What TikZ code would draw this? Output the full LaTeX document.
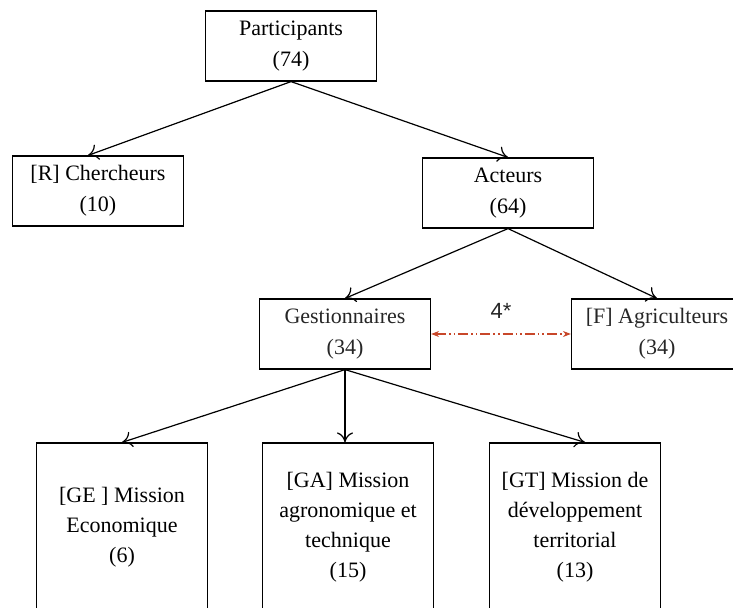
\documentclass[tikz,border=0pt]{standalone}
\usepackage{fontspec}
\setmainfont{Liberation Serif}
\newfontfamily\starfont{Liberation Sans}
\usepackage{xcolor}
\usetikzlibrary{arrows.meta}
\definecolor{linkred}{HTML}{C8472A}

\begin{document}
\begin{tikzpicture}[x=0.5pt,y=-0.5pt,
  box/.style={draw,line width=0.6pt,minimum width=85.5pt,minimum height=35pt,align=center,inner sep=2pt,font=\fontsize{11}{15.5}\selectfont},
  tallbox/.style={box,minimum height=84pt,font=\fontsize{11}{15}\selectfont},
  greytext/.style={text=black!85},
  link/.style={-{To[length=5pt,width=8pt]},line width=0.6pt}]
\useasboundingbox (0,0) rectangle (733,608);
\clip (0,0) rectangle (733,608);
%Text
\node (part) at (291,46) [box] {Participants\\(74)};
\node (cherch) at (98,191) [box] {[R] Chercheurs\\(10)};
\node (acteurs) at (508,193) [box] {Acteurs\\(64)};
\node (gest) at (345,334) [box,greytext] {Gestionnaires\\(34)};
\node (agri) at (657,334) [box,greytext] {[F] Agriculteurs\\(34)};
\node (ge) at (122,527) [tallbox] {[GE ] Mission\\Economique\\(6)};
\node (ga) at (348,527) [tallbox] {[GA] Mission\\agronomique et\\technique\\(15)};
\node (gt) at (575,527) [tallbox] {[GT] Mission de\\d\'eveloppement\\territorial\\(13)};
\draw [link] (part.south) -- ([xshift=-5pt]cherch.north);
\draw [link] (part.south) -- (acteurs.north);
\draw [link] (acteurs.south) -- (gest.north);
\draw [link] (acteurs.south) -- (agri.north);
\draw [link] (gest.south) -- (ge.north);
\draw [link] (gest.south) -- (gest.south |- ga.north);
\draw [link] (gest.south) -- ([xshift=5pt]gt.north);
\draw [{Stealth[length=4pt]}-{Stealth[length=4pt]},linkred,line width=0.6pt,dash pattern=on 5pt off 1.5pt on 0.8pt off 1.5pt on 0.8pt off 1.5pt] (gest.east) -- (agri.west) node [midway,above=4pt,text=black!85,font=\starfont\fontsize{11}{13}\selectfont] {4*};
\end{tikzpicture}
\end{document}
